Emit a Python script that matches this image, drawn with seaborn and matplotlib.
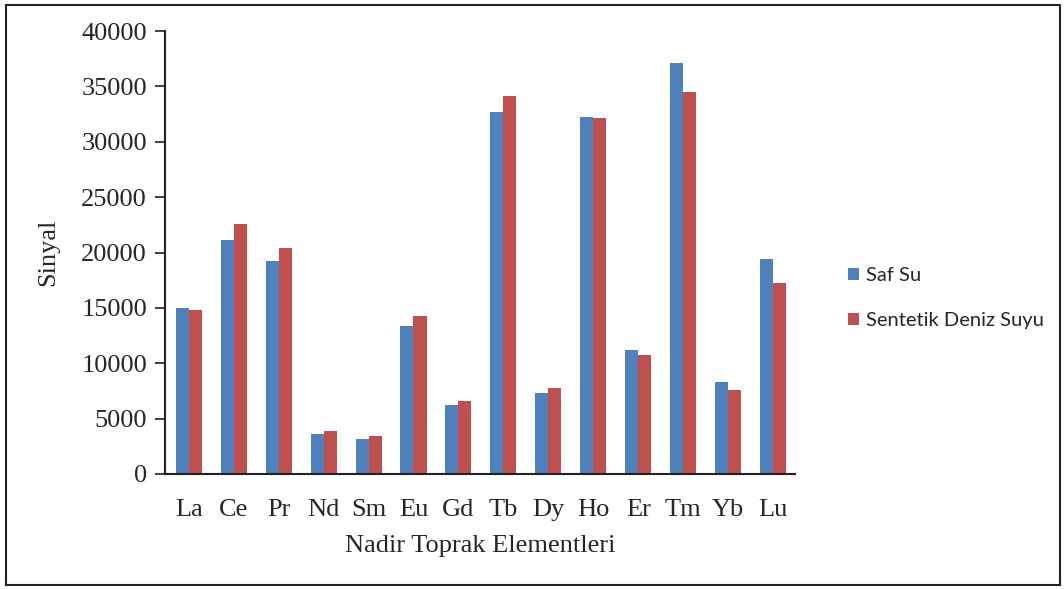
import matplotlib
matplotlib.use("Agg")
import matplotlib.pyplot as plt
import seaborn as sns
import pandas as pd
from matplotlib.patches import Rectangle

elements = ["La", "Ce", "Pr", "Nd", "Sm", "Eu", "Gd", "Tb", "Dy", "Ho", "Er", "Tm", "Yb", "Lu"]
saf_su = [15000, 21100, 19200, 3650, 3150, 13350, 6250, 32700, 7300, 32250, 11200, 37100, 8300, 19450]
sentetik = [14800, 22600, 20450, 3900, 3450, 14300, 6600, 34100, 7750, 32100, 10750, 34450, 7550, 17250]
series_names = ["Saf Su", "Sentetik Deniz Suyu"]
colors = ["#4F81BD", "#C0504D"]
yticks = [0, 5000, 10000, 15000, 20000, 25000, 30000, 35000, 40000]

df = pd.DataFrame({
    "Element": elements * 2,
    "Sinyal": saf_su + sentetik,
    "Seri": [series_names[0]] * len(elements) + [series_names[1]] * len(elements),
})

sns.set_style("white")
plt.rcParams["font.family"] = ["Liberation Serif", "DejaVu Serif"]

fig = plt.figure(figsize=(10.64, 5.89), dpi=100)
ax = fig.add_axes([165 / 1064, 1 - 474 / 589, 630 / 1064, 443 / 589])

sns.barplot(data=df, x="Element", y="Sinyal", hue="Seri", order=elements,
            hue_order=series_names, palette=colors, width=0.58,
            saturation=1, ax=ax, legend=True, edgecolor="none", linewidth=0)

ax.set_ylim(0, 40000)
ax.set_xlim(-0.53, len(elements) - 0.51)
ax.set_yticks(yticks)
ax.set_yticklabels([str(v) for v in yticks], fontsize=19)
ax.tick_params(axis="y", direction="out", length=7, width=1.2, color="#222222", pad=6, left=True)
ax.tick_params(axis="x", length=0, pad=18, labelsize=19)
for s in ["top", "right"]:
    ax.spines[s].set_visible(False)
for s in ["left", "bottom"]:
    ax.spines[s].set_color("#222222")
    ax.spines[s].set_linewidth(1.5)

ax.set_xlabel("Nadir Toprak Elementleri", fontsize=19, labelpad=10)
ax.set_ylabel("Sinyal", fontsize=19, labelpad=16)

leg = ax.legend(loc="center left", bbox_to_anchor=(830 / 1064, 1 - 298 / 589),
                bbox_transform=fig.transFigure, frameon=False,
                prop={"family": "Lato", "size": 14.5}, handlelength=0.55,
                handleheight=0.55, handletextpad=0.35, labelspacing=1.4)

fig.patches.append(Rectangle((6 / 1064, 4 / 589), 1054 / 1064, 580 / 589,
                             transform=fig.transFigure, fill=False,
                             edgecolor="#222222", linewidth=1.5))

fig.savefig("out.png", dpi=100, facecolor="white")
